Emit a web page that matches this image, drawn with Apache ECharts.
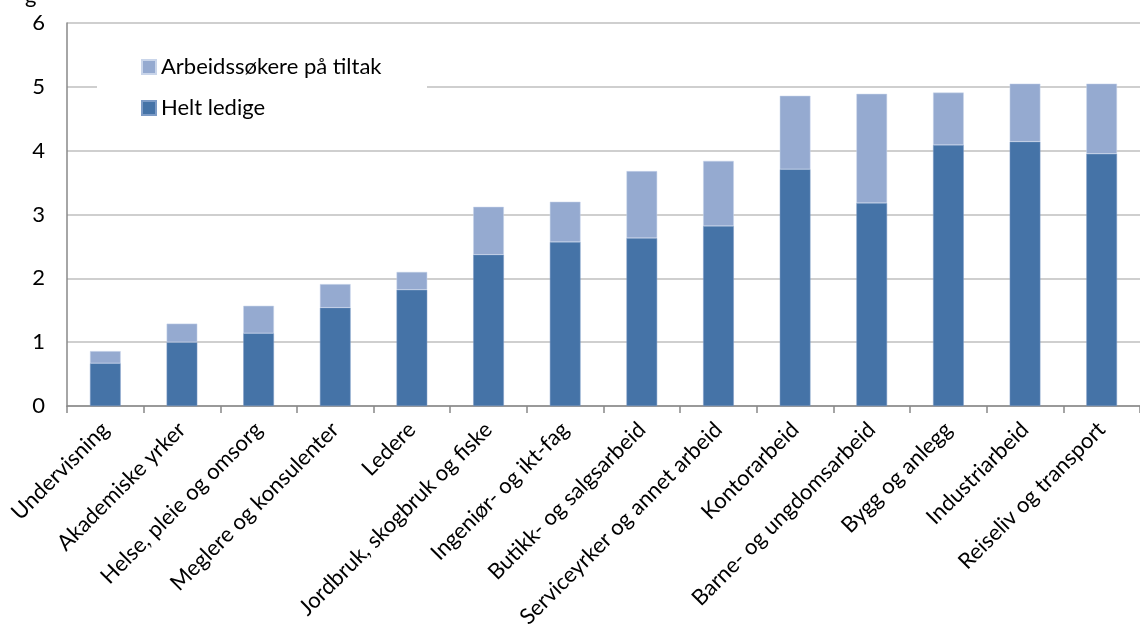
<!DOCTYPE html>
<html><head><meta charset="utf-8">
<script src="https://cdn.jsdelivr.net/npm/echarts@6/dist/echarts.min.js"></script>
<style>html,body{margin:0;padding:0;background:#fff}#c{width:1140px;height:633px}</style>
</head><body><div id="c"></div>
<script>
const categories = ["Undervisning","Akademiske yrker","Helse, pleie og omsorg","Meglere og konsulenter","Ledere","Jordbruk, skogbruk og fiske","Ingeniør- og ikt-fag","Butikk- og salgsarbeid","Serviceyrker og annet arbeid","Kontorarbeid","Barne- og ungdomsarbeid","Bygg og anlegg","Industriarbeid","Reiseliv og transport"];
const heltLedige = [0.67,1.00,1.14,1.54,1.82,2.37,2.57,2.63,2.82,3.71,3.18,4.09,4.14,3.95];
const tiltak = [0.19,0.29,0.43,0.37,0.28,0.75,0.63,1.05,1.02,1.15,1.71,0.82,0.91,1.10];
const yTicks = [0,1,2,3,4,5,6];
const FONT = 'Lato, "Open Sans", sans-serif';
const chart = echarts.init(document.getElementById('c'), null, {renderer:'canvas'});
chart.setOption({
  animation:false,
  textStyle:{fontFamily:FONT},
  grid:{left:67,right:0,top:23,bottom:227,containLabel:false},
  legend:{
    orient:'vertical', left:141, top:56, itemWidth:14, itemHeight:14, itemGap:19, icon:'rect',
    data:['Arbeidssøkere på tiltak','Helt ledige'], z:20,
    textStyle:{fontSize:22,color:'#000',fontFamily:FONT},
    padding:[0,0,0,0]
  },
  graphic:[
    {type:'rect', shape:{x:97,y:40,width:330,height:84}, style:{fill:'#fff'}, z:1},
    {type:'text', left:25, top:-15, style:{text:'g', fontSize:22, fill:'#000', fontFamily:FONT}, z:10}
  ],
  xAxis:{
    type:'category', data:categories,
    axisLine:{lineStyle:{color:'#888',width:1.5}},
    axisTick:{show:true, alignWithLabel:false, length:7, lineStyle:{color:'#888',width:1.5}},
    axisLabel:{rotate:45, fontSize:22, color:'#000', margin:20, interval:0, fontFamily:FONT}
  },
  yAxis:{
    type:'value', min:yTicks[0], max:yTicks[yTicks.length-1], interval:1,
    axisLine:{show:true, lineStyle:{color:'#888',width:1.5}},
    axisTick:{show:false},
    splitLine:{lineStyle:{color:'#BFBFBF',width:1.5}},
    axisLabel:{fontSize:22, color:'#000', margin:22, fontFamily:FONT}
  },
  series:[
    {name:'Helt ledige', type:'bar', stack:'a', data:heltLedige, barWidth:'40%',
     itemStyle:{color:'#4573A7', borderColor:'#7C9BC6', borderWidth:0.5}, z:3},
    {name:'Arbeidssøkere på tiltak', type:'bar', stack:'a', data:tiltak, barWidth:'40%',
     itemStyle:{color:'#95AAD0', borderColor:'#C9D5EA', borderWidth:0.5}, z:3}
  ]
});
</script></body></html>
